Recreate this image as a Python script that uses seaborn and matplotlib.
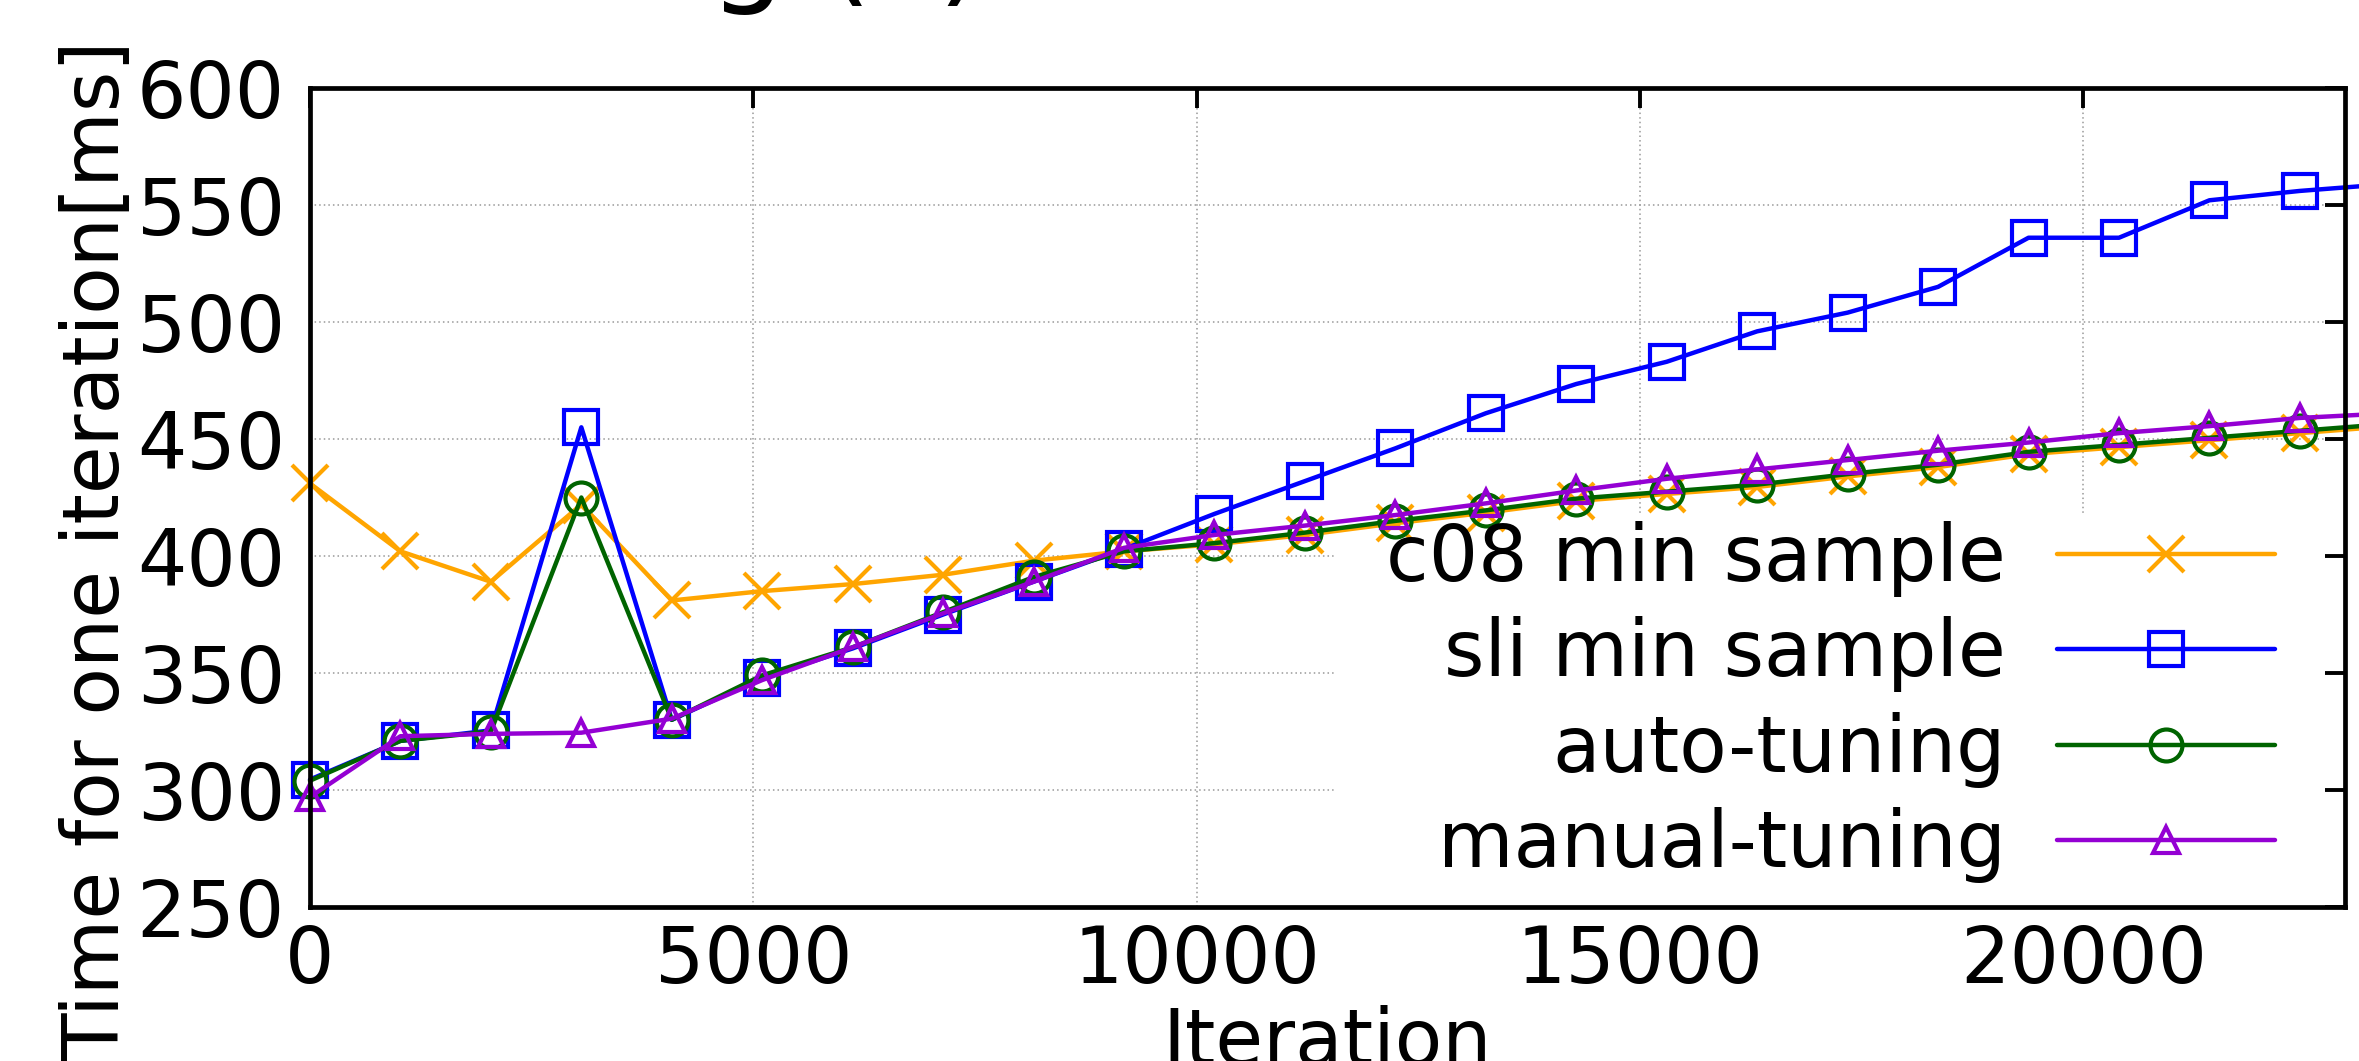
import pandas as pd
import seaborn as sns
import matplotlib.pyplot as plt
from matplotlib.patches import Rectangle

# Data (last point lies just past the x range)
iterations = [0, 1020, 2040, 3060, 4080, 5100, 6120, 7140, 8160, 9180, 10200, 11220,
              12240, 13260, 14280, 15300, 16320, 17340, 18360, 19380, 20400, 21420,
              22440, 23460]
c08_min = [431, 402, 389, 422, 381, 385, 388, 392, 398, 402, 405, 409,
           414, 418.5, 423.5, 426.5, 429.5, 434, 438, 443.5, 446.5, 449.5,
           452.5, 455.5]
sli_min = [304.5, 321, 325.5, 455, 330, 348, 360.5, 375, 389, 403, 418, 432,
           446, 461, 473.5, 483, 496, 504, 515, 536, 536, 552,
           556, 559]
auto_tuning = [304, 321, 325, 425, 330, 349, 361, 376, 391, 402, 405.5, 410,
               415, 419.5, 424.5, 427.5, 430.5, 435, 439, 444.5, 447.5, 450.5,
               453.5, 456.5]
manual_tuning = [297, 323, 324, 324.5, 330.5, 347, 361, 375.5, 389, 403.5, 409, 413,
                 417.5, 422.5, 428, 433, 437, 441, 445, 448.5, 452.5, 455.5,
                 459, 461]

series_names = ["c08 min sample", "sli min sample", "auto-tuning", "manual-tuning"]
series_values = [c08_min, sli_min, auto_tuning, manual_tuning]
series_colors = ["#ffa500", "#0000ff", "#006400", "#9400d3"]
series_markers = ["x", "s", "o", "^"]
marker_sizes = [26, 24, 23, 19]

x_ticks = [0, 5000, 10000, 15000, 20000]
y_ticks = [250, 300, 350, 400, 450, 500, 550, 600]

# long-form table for seaborn
frames = []
for name, vals in zip(series_names, series_values):
    frames.append(pd.DataFrame({"iteration": iterations, "time": vals, "series": name}))
df = pd.concat(frames, ignore_index=True)

sns.set_style("white")
plt.rcParams["font.family"] = ["DejaVu Sans"]
plt.rcParams["text.color"] = "black"
plt.rcParams["axes.labelcolor"] = "black"
plt.rcParams["xtick.color"] = "black"
plt.rcParams["ytick.color"] = "black"
FS = 56

fig = plt.figure(figsize=(23.59, 10.61), dpi=100)
ax = fig.add_axes([0.1314, 0.1451, 0.8627, 0.772])

# dotted grid, kept under the opaque key area
grid_style = dict(colors="#999999", linestyles=(0, (1, 2)), linewidth=1.1, zorder=0.5)
ax.vlines(x_ticks[1:], y_ticks[0], y_ticks[-1], **grid_style)
ax.hlines(y_ticks[1:-1], 0, 22950, **grid_style)
ax.add_patch(Rectangle((0.503, 0), 0.4867, 0.481, transform=ax.transAxes,
                       facecolor="white", edgecolor="none", zorder=1))

for name, color, marker, ms in zip(series_names, series_colors, series_markers, marker_sizes):
    sub = df[df["series"] == name]
    sns.lineplot(data=sub, x="iteration", y="time", ax=ax, color=color, marker=marker,
                 markersize=ms, markerfacecolor="none", markeredgecolor=color,
                 markeredgewidth=3.0, linewidth=3.2, label=name, errorbar=None,
                 clip_on=False, zorder=2)

ax.set_xlim(0, 22950)
ax.set_ylim(250, 600)
ax.set_xticks(x_ticks)
ax.set_yticks(y_ticks)
ax.tick_params(axis="both", direction="in", length=14.5, width=2.8, labelsize=FS,
               top=True, right=True, color="black", labelcolor="black")
ax.tick_params(axis="x", pad=11.5)
ax.tick_params(axis="y", pad=18)
for sp in ax.spines.values():
    sp.set_visible(True)
    sp.set_linewidth(3.4)
    sp.set_color("black")

ax.set_xlabel("Iteration", fontsize=FS, color="black")
ax.set_ylabel("Time for one iteration[ms]", fontsize=FS, color="black")
ax.xaxis.set_label_coords(0.5, -0.119)
ax.yaxis.set_label_coords(-0.0865, 0.4347)

ax.legend(loc="upper right", bbox_to_anchor=(0.9656, 0.4713), frameon=False,
          markerfirst=False, fontsize=FS, handlelength=2.8, handletextpad=0.66,
          labelspacing=0.25, borderpad=0, borderaxespad=0)

# title sits mostly above the cropped canvas
fig.text(985 / 2359, 1 + 10 / 1061, "Auto-tuning (c)", fontsize=87, ha="right",
         va="baseline", color="black")

fig.savefig("out.png", dpi=100)
